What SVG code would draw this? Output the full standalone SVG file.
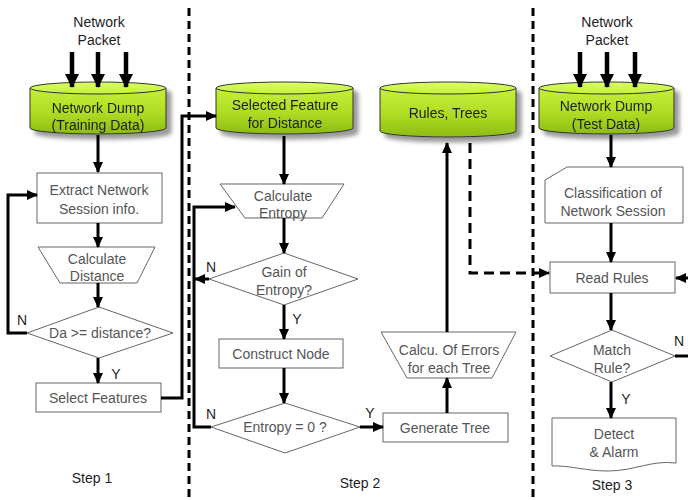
<svg xmlns="http://www.w3.org/2000/svg" width="688" height="500" viewBox="0 0 688 500">
  <defs>
    <linearGradient id="cylBody" x1="0" y1="0" x2="0" y2="1">
      <stop offset="0" stop-color="#c6f03a"/>
      <stop offset="0.55" stop-color="#aedc22"/>
      <stop offset="1" stop-color="#8cbc14"/>
    </linearGradient>
    <linearGradient id="cylTop" x1="0" y1="0" x2="0" y2="1">
      <stop offset="0" stop-color="#d9ff63"/>
      <stop offset="1" stop-color="#c2ef3a"/>
    </linearGradient>
    <filter id="shadow" x="-10%" y="-20%" width="130%" height="150%">
      <feDropShadow dx="5" dy="5" stdDeviation="2" flood-color="#777" flood-opacity="0.75"/>
    </filter>
    <marker id="arrow" markerUnits="userSpaceOnUse" markerWidth="11" markerHeight="10" refX="10" refY="5" orient="auto">
      <path d="M0,0 L11,5 L0,10 Z" fill="#000"/>
    </marker>
    <marker id="bigArrow" markerUnits="userSpaceOnUse" markerWidth="14" markerHeight="14" refX="13" refY="7" orient="auto">
      <path d="M0,0 L14,7 L0,14 Z" fill="#000"/>
    </marker>
  </defs>
  <style>
    text { font-family: "Liberation Sans", Arial, sans-serif; font-size: 14px; text-anchor: middle; }
    .dark { fill: #1e1e1e; }
    .grey { fill: #555; }
    .box { fill: #fff; stroke: #666; stroke-width: 1; }
    .cyl { fill: url(#cylBody); stroke: #333; stroke-width: 1; }
    .cylTop { fill: url(#cylTop); stroke: #333; stroke-width: 1; }
    .conn { fill: none; stroke: #000; stroke-width: 3; }
    .feed { fill: none; stroke: #000; stroke-width: 4.5; marker-end: url(#bigArrow); }
    .dash { fill: none; stroke: #000; stroke-width: 3; stroke-dasharray: 10 6; }
    .divider { fill: none; stroke: #000; stroke-width: 3; stroke-dasharray: 8 5; }
  </style>

  <rect width="688" height="500" fill="#fff"/>

  <!-- step dividers -->
  <g id="dividers">
    <line class="divider" x1="189" y1="8" x2="189" y2="500"/>
    <line class="divider" x1="533" y1="8" x2="533" y2="500"/>
  </g>

  <!-- Step 1 -->
  <g id="packet1">
    <text class="dark" x="99" y="27">Network</text>
    <text class="dark" x="99" y="45">Packet</text>
  </g>
  <g id="dumpTraining" filter="url(#shadow)">
    <path class="cyl" d="M30,88 L30,128 A68,6 0 0 0 166,128 L166,88 Z"/>
    <ellipse class="cylTop" cx="98" cy="88" rx="68" ry="6"/>
    <text class="dark" x="98" y="113">Network Dump</text>
    <text class="dark" x="98" y="130">(Training Data)</text>
  </g>
  <g id="extract">
    <rect class="box" x="37" y="173" width="125" height="50"/>
    <text class="grey" x="99" y="195">Extract Network</text>
    <text class="grey" x="99" y="214">Session info.</text>
  </g>
  <g id="calcDistance">
    <path class="box" d="M38,247 L155,247 L137,283 L60,283 Z"/>
    <text class="grey" x="97" y="264">Calculate</text>
    <text class="grey" x="97" y="281">Distance</text>
  </g>
  <g id="distanceCheck">
    <path class="box" d="M99,307 L173,333 L99,358 L27,333 Z"/>
    <text class="grey" x="100" y="338">Da &gt;= distance?</text>
  </g>
  <g id="selectFeatures">
    <rect class="box" x="36" y="383" width="125" height="29"/>
    <text class="grey" x="98" y="403">Select Features</text>
  </g>
  <text class="dark" x="92" y="483">Step 1</text>

  <!-- Step 2 -->
  <g id="selectedFeature" filter="url(#shadow)">
    <path class="cyl" d="M216,88 L216,128 A68.5,6 0 0 0 353,128 L353,88 Z"/>
    <ellipse class="cylTop" cx="284.5" cy="88" rx="68.5" ry="6"/>
    <text class="dark" x="285" y="110">Selected Feature</text>
    <text class="dark" x="285" y="128">for Distance</text>
  </g>
  <g id="calcEntropy">
    <path class="box" d="M220,184 L344,184 L322,218 L245,218 Z"/>
    <text class="grey" x="283" y="201">Calculate</text>
    <text class="grey" x="283" y="218">Entropy</text>
  </g>
  <g id="gainCheck">
    <path class="box" d="M284,253 L358,279 L284,305 L209,279 Z"/>
    <text class="grey" x="284" y="277">Gain of</text>
    <text class="grey" x="284" y="295">Entropy?</text>
  </g>
  <g id="constructNode">
    <rect class="box" x="219" y="339" width="124" height="29"/>
    <text class="grey" x="281" y="359">Construct Node</text>
  </g>
  <g id="entropyZero">
    <path class="box" d="M285,403 L360,427 L285,453 L211,427 Z"/>
    <text class="grey" x="285" y="432">Entropy = 0 ?</text>
  </g>
  <g id="generateTree">
    <rect class="box" x="383" y="413" width="125" height="29"/>
    <text class="grey" x="445" y="433">Generate Tree</text>
  </g>
  <g id="calcErrors">
    <path class="box" d="M381,332 L516,332 L492,378 L407,378 Z"/>
    <text class="grey" x="449" y="355">Calcu. Of Errors</text>
    <text class="grey" x="449" y="373">for each Tree</text>
  </g>
  <g id="rulesTrees" filter="url(#shadow)">
    <path class="cyl" d="M380,88 L380,131 A68,6 0 0 0 516,131 L516,88 Z"/>
    <ellipse class="cylTop" cx="448" cy="88" rx="68" ry="6"/>
    <text class="dark" x="448" y="118">Rules, Trees</text>
  </g>
  <text class="dark" x="360" y="488">Step 2</text>

  <!-- Step 3 -->
  <g id="packet2">
    <text class="dark" x="607" y="27">Network</text>
    <text class="dark" x="607" y="45">Packet</text>
  </g>
  <g id="dumpTest" filter="url(#shadow)">
    <path class="cyl" d="M539,88 L539,128 A67.5,6 0 0 0 674,128 L674,88 Z"/>
    <ellipse class="cylTop" cx="606.5" cy="88" rx="67.5" ry="6"/>
    <text class="dark" x="606" y="111">Network Dump</text>
    <text class="dark" x="606" y="129">(Test Data)</text>
  </g>
  <g id="classification">
    <path class="box" d="M567,167 L683,167 L683,223 L545,223 L545,180 Z"/>
    <text class="grey" x="613" y="198">Classification of</text>
    <text class="grey" x="613" y="216">Network Session</text>
  </g>
  <g id="readRules">
    <rect class="box" x="550" y="262" width="125" height="31"/>
    <text class="grey" x="612" y="283">Read Rules</text>
  </g>
  <g id="matchRule">
    <path class="box" d="M612,330 L675,356 L612,382 L550,356 Z"/>
    <text class="grey" x="612" y="355">Match</text>
    <text class="grey" x="612" y="373">Rule?</text>
  </g>
  <g id="detectAlarm">
    <path class="box" d="M552,418 L676,418 L676,463 C650,460 635,471 608,471 C585,471 568,465 552,466 Z"/>
    <text class="grey" x="614" y="439">Detect</text>
    <text class="grey" x="614" y="457">&amp; Alarm</text>
  </g>
  <text class="dark" x="612" y="490">Step 3</text>

  <!-- connectors -->
  <g id="connectors">
    <line class="feed" x1="72" y1="52" x2="72" y2="87"/>
    <line class="feed" x1="98" y1="52" x2="98" y2="87"/>
    <line class="feed" x1="126" y1="52" x2="126" y2="87"/>
    <line class="conn" x1="98" y1="135" x2="98" y2="172" marker-end="url(#arrow)"/>
    <line class="conn" x1="98" y1="223" x2="98" y2="247" marker-end="url(#arrow)"/>
    <line class="conn" x1="98" y1="283" x2="98" y2="307" marker-end="url(#arrow)"/>
    <polyline class="conn" points="27,333 8,333 8,195 37,195" marker-end="url(#arrow)"/>
    <line class="conn" x1="98" y1="358" x2="98" y2="383" marker-end="url(#arrow)"/>
    <polyline class="conn" points="161,398 182,398 182,116 216,116" marker-end="url(#arrow)"/>

    <line class="conn" x1="284" y1="136" x2="284" y2="184" marker-end="url(#arrow)"/>
    <line class="conn" x1="284" y1="218" x2="284" y2="253" marker-end="url(#arrow)"/>
    <polyline class="conn" points="211,427 194,427 194,207 235,207" marker-end="url(#arrow)"/>
    <line class="conn" x1="209" y1="279" x2="195" y2="279" marker-end="url(#arrow)"/>
    <line class="conn" x1="284" y1="305" x2="284" y2="339" marker-end="url(#arrow)"/>
    <line class="conn" x1="284" y1="368" x2="284" y2="403" marker-end="url(#arrow)"/>
    <line class="conn" x1="360" y1="427" x2="383" y2="427" marker-end="url(#arrow)"/>
    <line class="conn" x1="447" y1="413" x2="447" y2="378" marker-end="url(#arrow)"/>
    <line class="conn" x1="447" y1="332" x2="447" y2="143" marker-end="url(#arrow)"/>
    <polyline class="dash" points="470,143 470,273 549,273" marker-end="url(#arrow)"/>

    <line class="feed" x1="580" y1="52" x2="580" y2="87"/>
    <line class="feed" x1="607" y1="52" x2="607" y2="87"/>
    <line class="feed" x1="635" y1="52" x2="635" y2="87"/>
    <line class="conn" x1="611" y1="135" x2="611" y2="167" marker-end="url(#arrow)"/>
    <line class="conn" x1="611" y1="223" x2="611" y2="262" marker-end="url(#arrow)"/>
    <line class="conn" x1="700" y1="278" x2="676" y2="278" marker-end="url(#arrow)"/>
    <line class="conn" x1="611" y1="293" x2="611" y2="330" marker-end="url(#arrow)"/>
    <line class="conn" x1="675" y1="356" x2="690" y2="356"/>
    <line class="conn" x1="611" y1="382" x2="611" y2="418" marker-end="url(#arrow)"/>
  </g>

  <!-- branch labels -->
  <g id="labels">
    <text class="dark" x="22" y="325">N</text>
    <text class="dark" x="116" y="379">Y</text>
    <text class="dark" x="211" y="272">N</text>
    <text class="dark" x="297" y="324">Y</text>
    <text class="dark" x="211" y="419">N</text>
    <text class="dark" x="370" y="418">Y</text>
    <text class="dark" x="679" y="346">N</text>
    <text class="dark" x="626" y="404">Y</text>
  </g>
</svg>
